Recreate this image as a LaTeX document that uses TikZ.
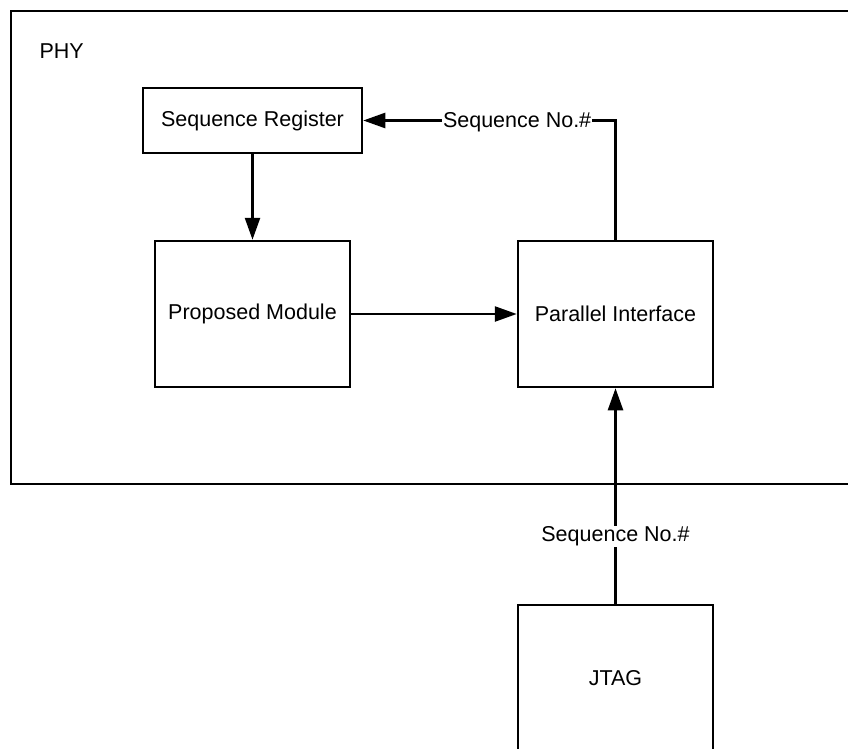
\documentclass[tikz,border=0pt]{standalone}
\usepackage{fontspec}
\setmainfont{Liberation Sans}
\usetikzlibrary{arrows.meta}
\begin{document}
\begin{tikzpicture}[x=1pt,y=-1pt,
  box/.style={draw=black, line width=2.5pt, fill=white, minimum width=195pt, minimum height=146pt, inner sep=0pt, font=\fontsize{21.5}{26}\selectfont},
  conn/.style={line width=2.5pt, -{Triangle[length=22pt,width=15pt]}},
  lbl/.style={fill=white, inner sep=1pt, yshift=-2pt, font=\fontsize{21.5}{26}\selectfont}]
\clip (0,0) rectangle (848,749);
\fill[white] (0,0) rectangle (848,749);
\draw[line width=2.8pt] (11,11) rectangle (880,484);
\node[anchor=west, font=\fontsize{21.5}{26}\selectfont] (phy) at (36,51) {PHY};
\node[box, minimum width=219pt, minimum height=65pt] (sr) at (252.5,120.5) {Sequence Register};
\node[box] (pm) at (252.5,314) {Proposed Module};
\node[box] (pi) at (615.5,314) {Parallel Interface};
\node[box] (jtag) at (615.5,678) {JTAG};
\draw[conn] (sr.south) -- (pm.north);
\draw[conn] (pm.east) -- (pi.west);
\draw[conn] (pi.north) |- node[lbl, pos=0.695, inner ysep=4pt] (l1) {Sequence No.\#} (sr.east);
\draw[conn] (jtag.north) -- node[lbl, pos=0.322] (l2) {Sequence No.\#} (pi.south);
\end{tikzpicture}
\end{document}
